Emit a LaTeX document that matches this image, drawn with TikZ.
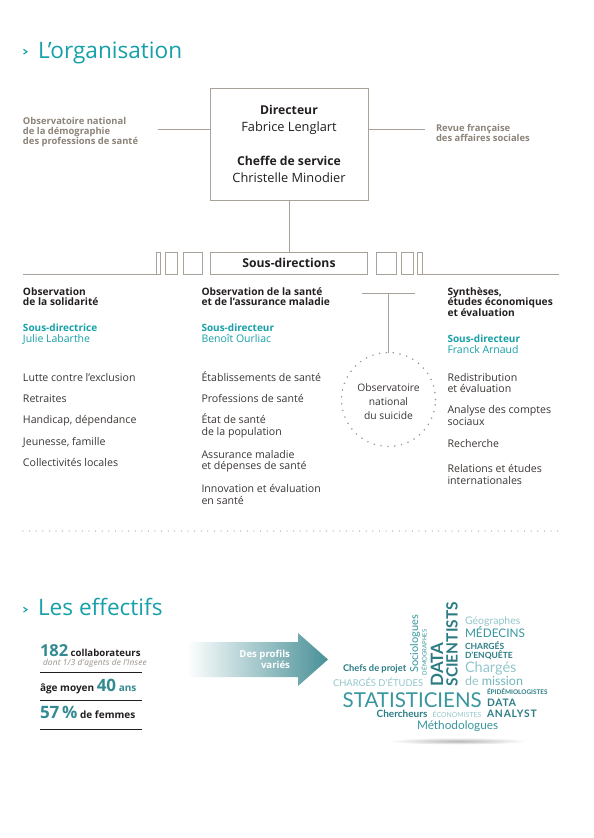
\documentclass[tikz,border=0pt]{standalone}
\usepackage{fontspec}
\setmainfont{Open Sans}
\newfontfamily\cloud{Lato}
\usetikzlibrary{positioning}

\definecolor{teal1}{RGB}{22,160,168}
\definecolor{ink}{RGB}{35,31,32}
\definecolor{body}{RGB}{58,54,52}
\definecolor{grayt}{RGB}{140,131,121}
\definecolor{rule}{RGB}{168,162,154}
\definecolor{st}{RGB}{52,138,146}
\definecolor{arrowteal}{RGB}{72,144,151}
\definecolor{cdark}{RGB}{44,124,132}
\definecolor{cmid}{RGB}{56,150,158}
\definecolor{clight}{RGB}{146,198,202}

\newcommand{\fs}[2]{\fontsize{#1}{#2}\selectfont}

\tikzset{
  every node/.style={inner sep=0pt, outer sep=0pt},
  link/.style={draw=rule, line width=0.9pt},
  ttl/.style={font=\fs{22.6}{24}, text=teal1, anchor=base west},
  hd/.style={font=\bfseries\fs{10.2}{10.5}, text=ink, align=left, anchor=base west},
  sub/.style={font=\fs{10.5}{11}, text=teal1, align=left, anchor=base west},
  item/.style={font=\fs{10.6}{11.7}, text=body, align=left, anchor=base west},
  side/.style={font=\bfseries\fs{9.4}{10}, text=grayt, align=left, anchor=base west},
  stat/.style={font=\bfseries\fs{10}{11}, text=ink, anchor=base west},
  word/.style={anchor=base west, text depth=0pt},
  caps/.style={text height=0.73em},
}

\begin{document}
\begin{tikzpicture}[x=1pt, y=-1pt]
  \useasboundingbox (0,0) rectangle (594,838);
  \fill[white] (0,0) rectangle (594,838);

  % titre
  \draw[teal1, line width=1.1pt] (23.5,49.3) -- (27,51.7) -- (23.5,54.1);
  \node[ttl] (t1) at (38,58.5) {L’organisation};

  % direction
  \node[draw=rule, line width=0.9pt, minimum width=158pt, minimum height=112pt,
        align=center, font=\fs{12.8}{17}, text=ink] (dir) at (289,144)
    {{\fs{12.2}{17}\bfseries Directeur}\\Fabrice Lenglart\\[17pt]{\fs{12.2}{17}\bfseries Cheffe de service}\\Christelle Minodier};

  \node[side] (ondps) at (23,144) {Observatoire national\\de la démographie\\des professions de santé};
  \node[side] (rfas) at (436,141) {Revue française\\des affaires sociales};
  \coordinate (la) at (158,129.5);
  \coordinate (ra) at (425,129.5);
  \draw[link] (la) -- (la -| dir.west);
  \draw[link] (dir.east |- ra) -- (ra);

  % sous-directions
  \node[draw=rule, line width=0.9pt, minimum width=157pt, minimum height=22pt,
        font=\bfseries\fs{12.2}{12}, text=ink] (sd) at (289,263) {Sous-directions};
  \draw[link] (dir.south) -- (sd.north);
  \foreach \a/\b in {156.7/160.7, 165/177.3, 183.3/202.7, 376/396, 401/413, 417.7/422.7}
    \draw[link] (\a,252) rectangle (\b,274);
  \draw[link] (23,274) -- (156.7,274);
  \draw[link] (422.7,274) -- (558.5,274);

  % colonne 1
  \node[hd] (h1) at (23,305.5) {Observation\\de la solidarité};
  \node[sub] (s1) at (23,342.5) {{\fs{10}{11}\bfseries Sous-directrice}\\Julie Labarthe};
  \node[item] (a1) at (23,381) {Lutte contre l’exclusion};
  \node[item] (a2) at (23,402.3) {Retraites};
  \node[item] (a3) at (23,423.6) {Handicap, dépendance};
  \node[item] (a4) at (23,445) {Jeunesse, famille};
  \node[item] (a5) at (23,466.5) {Collectivités locales};

  % colonne 2
  \node[hd] (h2) at (201.5,305.5) {Observation de la santé\\et de l’assurance maladie};
  \node[sub] (s2) at (201.5,342.5) {{\fs{10}{11}\bfseries Sous-directeur}\\Benoît Ourliac};
  \node[item] (b1) at (201.5,381) {Établissements de santé};
  \node[item] (b2) at (201.5,402.3) {Professions de santé};
  \node[item] (b3) at (201.5,435.2) {État de santé\\de la population};
  \node[item] (b4) at (201.5,469.8) {Assurance maladie\\et dépenses de santé};
  \node[item] (b5) at (201.5,504.6) {Innovation et évaluation\\en santé};

  % observatoire du suicide
  \coordinate (onsL) at (362,293);
  \coordinate (onsR) at (415,293);
  \coordinate (jn) at (388.5,293);
  \draw[link] (onsL) -- (onsR);
  \node[circle, minimum size=94pt, draw=grayt!85, line width=1.7pt, line cap=round,
        dash pattern=on 0pt off 6.9pt] (ons) at (388.5,399.5) {};
  \node[align=center, font=\fs{10.3}{14}, text=body] (onst) at ([yshift=-2.5pt]ons.center)
    {Observatoire\\national\\du suicide};
  \draw[link] (jn) -- (ons.north);

  % colonne 3
  \node[hd] (h3) at (447.5,316) {Synthèses,\\études économiques\\et évaluation};
  \node[sub] (s3) at (447.5,353.5) {{\fs{10}{11}\bfseries Sous-directeur}\\Franck Arnaud};
  \node[item] (c1) at (447.5,392.7) {Redistribution\\et évaluation};
  \node[item] (c2) at (447.5,425) {Analyse des comptes\\sociaux};
  \node[item] (c3) at (447.5,447.5) {Recherche};
  \node[item] (c4) at (447.5,484.4) {Relations et études\\internationales};

  % séparateur
  \draw[grayt!70, line width=1.3pt, line cap=round, dash pattern=on 0pt off 6.6pt]
    (23,531) -- (560,531);

  % effectifs
  \draw[teal1, line width=1.1pt] (23.5,607.3) -- (27,609.7) -- (23.5,612.1);
  \node[ttl] (t2) at (38,615.7) {Les effectifs};

  \node[stat, font=\bfseries\fs{9.6}{11}] (n1) at (40,656) {{\fs{16.5}{17}\color{st}182} collaborateurs};
  \node[anchor=base west, font=\itshape\fs{8.3}{8}\addfontfeature{LetterSpace=2.3}, text=grayt!90]
    (n1i) at (43,665.3) {dont 1/3 d’agents de l’Insee};
  \node[stat] (n2) at (40,691) {âge moyen {\fs{17}{17}\color{st}40} {\color{st}ans}};
  \node[stat] (n3) at (40,718) {{\fs{17}{17}\color{st}57\,\%} de femmes};
  \foreach \y in {672.3, 700.7, 729}
    \draw[ink, line width=0.7pt] (40,\y) -- (142,\y);

  % flèche
  \shade[left color=white, middle color=arrowteal, right color=arrowteal]
    (187,642) -- (298,642) -- (298,633) -- (328,659.5) -- (298,686) -- (298,677) -- (187,677) -- cycle;
  \node[anchor=base east, align=right, font=\bfseries\fs{9.6}{11}, text=white] (prof) at (290,668)
    {Des profils\\variés};

  % nuage de mots
  \shade[inner color=black!28, outer color=white] (458,741) ellipse [x radius=70, y radius=3.5];
  \node[word, caps, rotate=90, font=\cloud\bfseries\fs{17}{17}, text=cdark] (w1) at (443,686.5) {DATA};
  \node[word, caps, rotate=90, font=\cloud\bfseries\fs{15.5}{15}, text=cdark] (w2) at (457.5,686.5) {SCIENTISTS};
  \node[word, rotate=90, font=\cloud\fs{11}{11}, text=cmid] (w3) at (418,672.5) {Sociologues};
  \node[word, caps, rotate=90, font=\cloud\fs{6}{6}, text=cmid] (w4) at (426.5,675) {DÉMOGRAPHES};
  \node[word, font=\cloud\fs{10.5}{11}, text=clight] (w5) at (465,624) {Géographes};
  \node[word, caps, font=\cloud\fs{11.8}{11}, text=cmid] (w6) at (465,637) {MÉDECINS};
  \node[word, caps, font=\cloud\bfseries\fs{8.5}{9}, text=cdark] (w7) at (465,649.3) {CHARGÉS};
  \node[word, caps, font=\cloud\bfseries\fs{8.5}{9}, text=cdark] (w8) at (465,658) {D’ENQUÊTE};
  \node[word, font=\cloud\fs{14.5}{15}, text=clight] (w9) at (465,672.7) {Chargés};
  \node[word, font=\cloud\fs{12.5}{12}, text=clight] (w10) at (465,685) {de {\color{cmid!70}mission}};
  \node[word, font=\cloud\bfseries\fs{9.3}{9}, text=cdark] (w11) at (343,671.7) {Chefs de projet};
  \node[word, caps, font=\cloud\fs{9.4}{9}, text=clight] (w12) at (333,686.7) {CHARGÉS D’ÉTUDES};
  \node[word, caps, font=\cloud\fs{20.5}{19}, text=cmid] (w13) at (342.7,707.3) {STATISTICIENS};
  \node[word, caps, font=\cloud\bfseries\fs{6.4}{6}, text=cdark] (w14) at (487,694.3) {ÉPIDÉMIOLOGISTES};
  \node[word, caps, font=\cloud\bfseries\fs{10.3}{10}\addfontfeature{LetterSpace=8}, text=cdark] (w15) at (487,706.7) {DATA};
  \node[word, caps, font=\cloud\bfseries\fs{10.3}{10}\addfontfeature{LetterSpace=8}, text=cdark] (w16) at (487,717.3) {ANALYST};
  \node[word, font=\cloud\bfseries\fs{10}{9}, text=cdark] (w17) at (376.7,717.3) {Chercheurs};
  \node[word, caps, font=\cloud\fs{6.9}{7}, text=clight] (w18) at (432.7,717) {ÉCONOMISTES};
  \node[word, font=\cloud\fs{11.8}{12}, text=cmid] (w19) at (417,729.3) {Méthodologues};
\end{tikzpicture}
\end{document}
